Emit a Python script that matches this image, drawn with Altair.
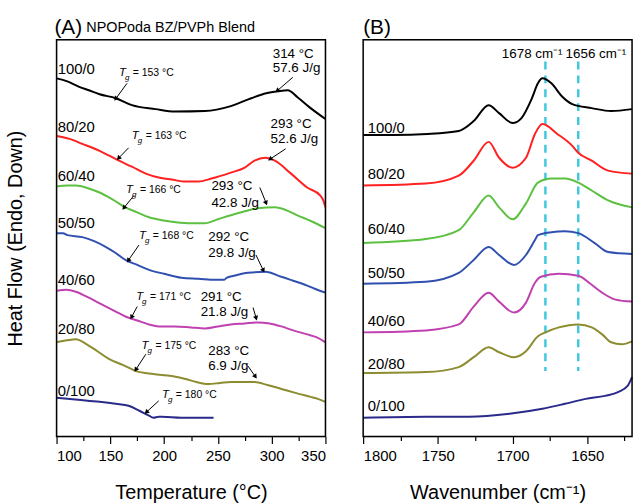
import math
import altair as alt
import pandas as pd

FONT = "Liberation Sans"

# ---------------- DSC data (panel A) ----------------
series = ["100/0", "80/20", "60/40", "50/50", "40/60", "20/80", "0/100"]
colors = ["#000000", "#ff2020", "#5cc040", "#3050b0", "#c040b0", "#8c8c30", "#2a2a8a"]

dsc_T_100_0 = [100, 110, 120, 130, 140, 155, 170, 192, 210, 238, 262, 281, 295, 306, 315, 324, 335, 350]
dsc_h_100_0 = [361, 358, 353, 349, 345, 341, 334, 330, 327.5, 328, 333, 341, 346, 348, 349, 342, 332, 320]

dsc_T_80_20 = [100, 112, 124, 140, 158, 170, 183, 195, 207, 220, 232, 244, 262, 275, 284, 294, 303, 318, 333, 345, 348, 350]
dsc_h_80_20 = [303, 300, 295, 288, 278, 272, 265, 261, 259, 257, 257, 260, 266, 271, 278, 281, 278, 265, 251, 243, 238, 231]

dsc_T_60_40 = [100, 110, 118, 130, 140, 152, 164, 175, 186, 198, 211, 225, 238, 250, 262, 275, 287, 303, 314, 324, 337, 350]
dsc_h_60_40 = [252, 253, 253, 250, 246, 239, 231, 226, 221, 218, 216, 215, 215, 219, 223, 227, 230, 231, 228, 223, 217, 210]

dsc_T_50_50 = [100, 106, 110, 124, 135, 146, 155, 164, 175, 186, 200, 216, 232, 248, 256, 258, 265, 278, 294, 309, 320, 331, 340, 350]
dsc_h_50_50 = [205, 205, 203, 201, 197, 191, 185, 178, 173, 168, 164, 160, 159, 158, 158, 160, 162, 165, 166, 161, 157, 153, 149, 145]

dsc_T_40_60 = [100, 109, 118, 128, 137, 146, 155, 164, 175, 186, 195, 210, 225, 238, 250, 262, 275, 287, 298, 309, 320, 333, 342, 350]
dsc_h_40_60 = [147, 148, 146, 141, 136, 131, 126, 121, 117, 113, 111, 111, 110, 109, 111, 113, 114, 115, 114, 111, 107, 103, 100, 95]

dsc_T_20_80 = [100, 110, 118, 128, 138, 149, 162, 174, 190, 207, 220, 230, 241, 252, 262, 275, 284, 296, 309, 322, 336, 343, 350]
dsc_h_20_80 = [95, 97, 98, 93, 86, 78, 72, 66, 63, 61, 58, 55, 53, 54, 55, 55, 55, 52, 48, 44, 40, 38, 35]

dsc_T_0_100 = [100, 120, 140, 155, 167, 177, 186, 190, 195, 198, 216, 246]
dsc_h_0_100 = [39, 37, 35, 33, 31, 26, 21, 19, 20, 20, 19, 19]

dsc_T = [dsc_T_100_0, dsc_T_80_20, dsc_T_60_40, dsc_T_50_50, dsc_T_40_60, dsc_T_20_80, dsc_T_0_100]
dsc_h = [dsc_h_100_0, dsc_h_80_20, dsc_h_60_40, dsc_h_50_50, dsc_h_40_60, dsc_h_20_80, dsc_h_0_100]

# ---------------- FTIR data (panel B) ----------------
ir_w_100_0 = [1800, 1780, 1757, 1736, 1726, 1716, 1709, 1700, 1694, 1687, 1683, 1680, 1674, 1667, 1660, 1647, 1634, 1620]
ir_a_100_0 = [304, 304, 305, 308, 318, 334, 326, 316, 321, 341, 356, 361, 356, 343, 335, 331, 328, 330]

ir_w_80_20 = [1800, 1758, 1736, 1726, 1716, 1709, 1700, 1691, 1685, 1680, 1670, 1660, 1656, 1647, 1636, 1620]
ir_a_80_20 = [253, 255, 263, 278, 297, 281, 271, 281, 305, 315, 305, 293, 286, 278, 268, 265]

ir_w_60_40 = [1800, 1758, 1736, 1726, 1716, 1709, 1700, 1691, 1683, 1674, 1665, 1656, 1647, 1636, 1620]
ir_a_60_40 = [195, 199, 208, 226, 243, 231, 219, 235, 256, 260, 260, 256, 248, 238, 231]

ir_w_50_50 = [1800, 1758, 1736, 1726, 1716, 1709, 1699, 1691, 1685, 1683, 1674, 1665, 1656, 1645, 1636, 1620]
ir_a_50_50 = [154, 156, 165, 178, 191, 183, 173, 183, 198, 203, 206, 207, 205, 195, 186, 184]

ir_w_40_60 = [1800, 1758, 1736, 1726, 1716, 1709, 1699, 1691, 1685, 1681, 1669, 1656, 1647, 1640, 1631, 1620]
ir_a_40_60 = [105, 107, 113, 131, 145, 136, 125, 135, 155, 161, 164, 162, 153, 145, 138, 136]

ir_w_20_80 = [1800, 1758, 1736, 1726, 1716, 1709, 1699, 1691, 1683, 1678, 1669, 1656, 1647, 1640, 1634, 1627, 1620]
ir_a_20_80 = [64, 65, 70, 80, 90, 85, 80, 86, 101, 105, 110, 113, 110, 103, 95, 93, 96]

ir_w_0_100 = [1800, 1758, 1729, 1702, 1680, 1665, 1651, 1638, 1629, 1623, 1620]
ir_a_0_100 = [19, 20, 20, 23, 28, 33, 38, 41, 45, 51, 60]

ir_w = [ir_w_100_0, ir_w_80_20, ir_w_60_40, ir_w_50_50, ir_w_40_60, ir_w_20_80, ir_w_0_100]
ir_a = [ir_a_100_0, ir_a_80_20, ir_a_60_40, ir_a_50_50, ir_a_40_60, ir_a_20_80, ir_a_0_100]

# ---------------- annotations ----------------
dsc_label_T = [101] * 7
dsc_label_h = [370, 312, 263, 215, 158, 108, 46]
ir_label_w = [1797] * 7
ir_label_a = [311, 265, 209, 165, 116, 73, 31]

tg_values = ["= 153 °C", "= 163 °C", "= 166 °C", "= 168 °C", "= 171 °C", "= 175 °C", "= 180 °C"]
tg_text_T = [158, 170, 164.6, 176.6, 174, 179, 198]
tg_text_h = [366, 303, 248, 202, 141, 91, 42]
tg_from_T = [165.5, 167, 172, 176.6, 175, 183, 195]
tg_from_h = [356, 291, 243, 193, 131, 83, 36]
tg_tip_T = [155.4, 158, 163, 167, 170, 174, 184]
tg_tip_h = [341, 281, 231, 178, 121, 68, 25]

peak_line1 = ["314 °C", "293 °C", "293 °C", "292 °C", "291 °C", "283 °C"]
peak_line2 = ["57.6 J/g", "52.6 J/g", "42.8 J/g", "29.8 J/g", "21.8 J/g", "6.9 J/g"]
peak_text_T = [301, 299, 244, 241, 234, 241]
peak_text_h1 = [386, 315, 252, 201, 141, 86]
peak_text_h2 = [371, 300, 235, 185, 126, 71]
peak_from_T = [319.6, 313, 289, 285.4, 282.7, 278]
peak_from_h = [362, 290, 251, 183, 130, 71]
peak_tip_T = [305.7, 299, 294.6, 292, 285.4, 284.5]
peak_tip_h = [349, 280, 236, 168, 120, 61]

band_w = [1678, 1656]
band_labels = ["1678 cm⁻¹", "1656 cm⁻¹"]
band_label_w = [1666.5, 1664.5]
band_label_align = ["right", "left"]
band_top = 378
band_bottom = 66
band_label_a = 386

# ---------------- layout constants ----------------
W, H = 271, 400
T_dom = [100, 350]
W_dom = [1620, 1800]
Y_dom = [0, 400]
pxT = W / (T_dom[1] - T_dom[0])
pxW = W / (W_dom[1] - W_dom[0])
pxY = H / (Y_dom[1] - Y_dom[0])

# ---------------- data frames ----------------
dsc_rows = []
for s, Ts, hs in zip(series, dsc_T, dsc_h):
    for t, h in zip(Ts, hs):
        dsc_rows.append({"series": s, "T": t, "h": h})
dsc_df = pd.DataFrame(dsc_rows)

ir_rows = []
for s, ws, As in zip(series, ir_w, ir_a):
    for w, a in zip(ws, As):
        ir_rows.append({"series": s, "w": w, "a": a})
ir_df = pd.DataFrame(ir_rows)

color_scale = alt.Scale(domain=series, range=colors)


def head_angle(x1, y1, x2, y2, sx, sy):
    dx = (x2 - x1) * sx
    dy_up = (y2 - y1) * sy
    ang = math.degrees(math.atan2(dx, dy_up))
    return ang % 360


arrows_dsc = pd.DataFrame({
    "x1": tg_from_T + peak_from_T,
    "y1": tg_from_h + peak_from_h,
    "x2": tg_tip_T + peak_tip_T,
    "y2": tg_tip_h + peak_tip_h,
})
arrows_dsc["ang"] = [head_angle(a, b, c, d, pxT, pxY)
                     for a, b, c, d in zip(arrows_dsc.x1, arrows_dsc.y1, arrows_dsc.x2, arrows_dsc.y2)]

tg_df = pd.DataFrame({"T": tg_text_T, "h": tg_text_h, "txt": tg_values})
peak_df = pd.DataFrame({
    "T": peak_text_T + peak_text_T,
    "h": peak_text_h1 + peak_text_h2,
    "txt": peak_line1 + peak_line2,
})
dsc_lab_df = pd.DataFrame({"T": dsc_label_T, "h": dsc_label_h, "txt": series})
ir_lab_df = pd.DataFrame({"w": ir_label_w, "a": ir_label_a, "txt": series})
band_df = pd.DataFrame({"w": band_w, "top": [band_top] * 2, "bottom": [band_bottom] * 2})
band_lab_df = pd.DataFrame({"w": band_label_w, "a": [band_label_a] * 2, "txt": band_labels,
                            "al": band_label_align})

titleA = pd.DataFrame({"T": [98, 127.7], "h": [412, 412], "txt": ["(A)", "NPOPoda BZ/PVPh Blend"], "size": [21, 14.5]})
titleB = pd.DataFrame({"w": [1800], "a": [412], "txt": ["(B)"]})

major_T = [100, 150, 200, 250, 300, 350]
minor_T = [125, 175, 225, 275, 325]
major_W = [1800, 1750, 1700, 1650]
minor_W = [1775, 1725, 1675, 1625]

# ---------------- scales / axes ----------------
xA = alt.Scale(domain=T_dom, nice=False, zero=False)
xB = alt.Scale(domain=W_dom, nice=False, zero=False, reverse=True)
yS = alt.Scale(domain=Y_dom, nice=False, zero=False)

axis_common = dict(orient="bottom", grid=False, domain=False, tickColor="black",
                   labelColor="black", titleColor="black", labelFont=FONT, titleFont=FONT,
                   labelFontSize=15, titleFontSize=20, titleFontWeight="normal",
                   tickWidth=1.2, format="d")

axA_major = alt.Axis(values=major_T, tickSize=7, labelPadding=5, titlePadding=19,
                     title="Temperature (°C)", **axis_common)
axA_minor = alt.Axis(values=minor_T, tickSize=4, labels=False, title=None, **axis_common)
axB_major = alt.Axis(values=major_W, tickSize=7, labelPadding=5, titlePadding=19,
                     title="Wavenumber (cm⁻¹)", **axis_common)
axB_minor = alt.Axis(values=minor_W, tickSize=4, labels=False, title=None, **axis_common)

yA_axis = alt.Axis(title="Heat Flow (Endo, Down)", labels=False, ticks=False, domain=False,
                   grid=False, titleFont=FONT, titleFontSize=20, titleFontWeight="normal",
                   titleColor="black", titlePadding=31, orient="left")

frame = alt.Chart(pd.DataFrame({"k": [0]})).mark_rect(fill=None, stroke="black", strokeWidth=1.5).encode(
    x=alt.value(0), x2=alt.value(W), y=alt.value(0), y2=alt.value(H))

# ---------------- panel A ----------------
linesA = alt.Chart(dsc_df).mark_line(strokeWidth=2, interpolate="monotone").encode(
    x=alt.X("T:Q", scale=xA, axis=axA_major),
    y=alt.Y("h:Q", scale=yS, axis=yA_axis),
    color=alt.Color("series:N", scale=color_scale, legend=None),
    detail="series:N",
)
minorA = alt.Chart(pd.DataFrame({"T": minor_T})).mark_point(opacity=0).encode(
    x=alt.X("T:Q", scale=xA, axis=axA_minor),
)
labA = alt.Chart(dsc_lab_df).mark_text(align="left", baseline="middle", font=FONT, fontSize=15, color="black").encode(
    x=alt.X("T:Q", scale=xA, axis=None), y=alt.Y("h:Q", scale=yS, axis=None), text="txt:N")
tgT = alt.Chart(tg_df).mark_text(align="left", baseline="middle", font=FONT, fontSize=11.5,
                                  fontStyle="italic", color="black").encode(
    x=alt.X("T:Q", scale=xA, axis=None), y=alt.Y("h:Q", scale=yS, axis=None), text=alt.value("T"))
tgG = alt.Chart(tg_df).mark_text(align="left", baseline="middle", font=FONT, fontSize=8,
                                  fontStyle="italic", color="black", dx=6, dy=5).encode(
    x=alt.X("T:Q", scale=xA, axis=None), y=alt.Y("h:Q", scale=yS, axis=None), text=alt.value("g"))
tgV = alt.Chart(tg_df).mark_text(align="left", baseline="middle", font=FONT, fontSize=10.5,
                                  color="black", dx=14).encode(
    x=alt.X("T:Q", scale=xA, axis=None), y=alt.Y("h:Q", scale=yS, axis=None), text="txt:N")
peakTxt = alt.Chart(peak_df).mark_text(align="left", baseline="middle", font=FONT, fontSize=13.5,
                                        color="black").encode(
    x=alt.X("T:Q", scale=xA, axis=None), y=alt.Y("h:Q", scale=yS, axis=None), text="txt:N")
arrA = alt.Chart(arrows_dsc).mark_rule(color="black", strokeWidth=1).encode(
    x=alt.X("x1:Q", scale=xA, axis=None), y=alt.Y("y1:Q", scale=yS, axis=None),
    x2="x2:Q", y2="y2:Q")
headA = alt.Chart(arrows_dsc).mark_point(shape="triangle", filled=True, color="black", size=28, opacity=1).encode(
    x=alt.X("x2:Q", scale=xA, axis=None), y=alt.Y("y2:Q", scale=yS, axis=None),
    angle=alt.Angle("ang:Q", scale=None))
titA = alt.Chart(titleA).mark_text(align="left", baseline="middle", font=FONT, color="black").encode(
    x=alt.X("T:Q", scale=xA, axis=None), y=alt.Y("h:Q", scale=yS, axis=None), text="txt:N",
    size=alt.Size("size:Q", scale=None))

panelA = alt.layer(linesA, minorA, labA, tgT, tgG, tgV, peakTxt, arrA, headA, titA, frame).resolve_axis(
    x="independent", y="independent").properties(width=W, height=H)

# ---------------- panel B ----------------
linesB = alt.Chart(ir_df).mark_line(strokeWidth=2, interpolate="monotone").encode(
    x=alt.X("w:Q", scale=xB, axis=axB_major),
    y=alt.Y("a:Q", scale=yS, axis=None),
    color=alt.Color("series:N", scale=color_scale, legend=None),
    detail="series:N",
    order=alt.Order("w:Q"),
)
minorB = alt.Chart(pd.DataFrame({"w": minor_W})).mark_point(opacity=0).encode(
    x=alt.X("w:Q", scale=xB, axis=axB_minor),
)
bands = alt.Chart(band_df).mark_rule(color="#40c8e0", strokeWidth=2.5, strokeDash=[8, 6]).encode(
    x=alt.X("w:Q", scale=xB, axis=None), y=alt.Y("top:Q", scale=yS, axis=None), y2="bottom:Q")
bandLabR = alt.Chart(band_lab_df[band_lab_df.al == "right"]).mark_text(
    align="right", baseline="middle", font=FONT, fontSize=13.5, color="black").encode(
    x=alt.X("w:Q", scale=xB, axis=None), y=alt.Y("a:Q", scale=yS, axis=None), text="txt:N")
bandLabL = alt.Chart(band_lab_df[band_lab_df.al == "left"]).mark_text(
    align="left", baseline="middle", font=FONT, fontSize=13.5, color="black").encode(
    x=alt.X("w:Q", scale=xB, axis=None), y=alt.Y("a:Q", scale=yS, axis=None), text="txt:N")
labB = alt.Chart(ir_lab_df).mark_text(align="left", baseline="middle", font=FONT, fontSize=15, color="black").encode(
    x=alt.X("w:Q", scale=xB, axis=None), y=alt.Y("a:Q", scale=yS, axis=None), text="txt:N")
titB = alt.Chart(titleB).mark_text(align="left", baseline="middle", font=FONT, fontSize=21, color="black").encode(
    x=alt.X("w:Q", scale=xB, axis=None), y=alt.Y("a:Q", scale=yS, axis=None), text="txt:N")

panelB = alt.layer(bands, linesB, minorB, bandLabR, bandLabL, labB, titB, frame).resolve_axis(
    x="independent", y="independent").properties(width=W, height=H)

chart = alt.hconcat(panelA, panelB, spacing=38, bounds="flush").properties(
    padding={"left": 5, "top": 14, "right": 0, "bottom": 0}
).configure_view(stroke=None).configure(background="white")

chart.save("out.html", embed_options={"renderer": "svg", "actions": False})
